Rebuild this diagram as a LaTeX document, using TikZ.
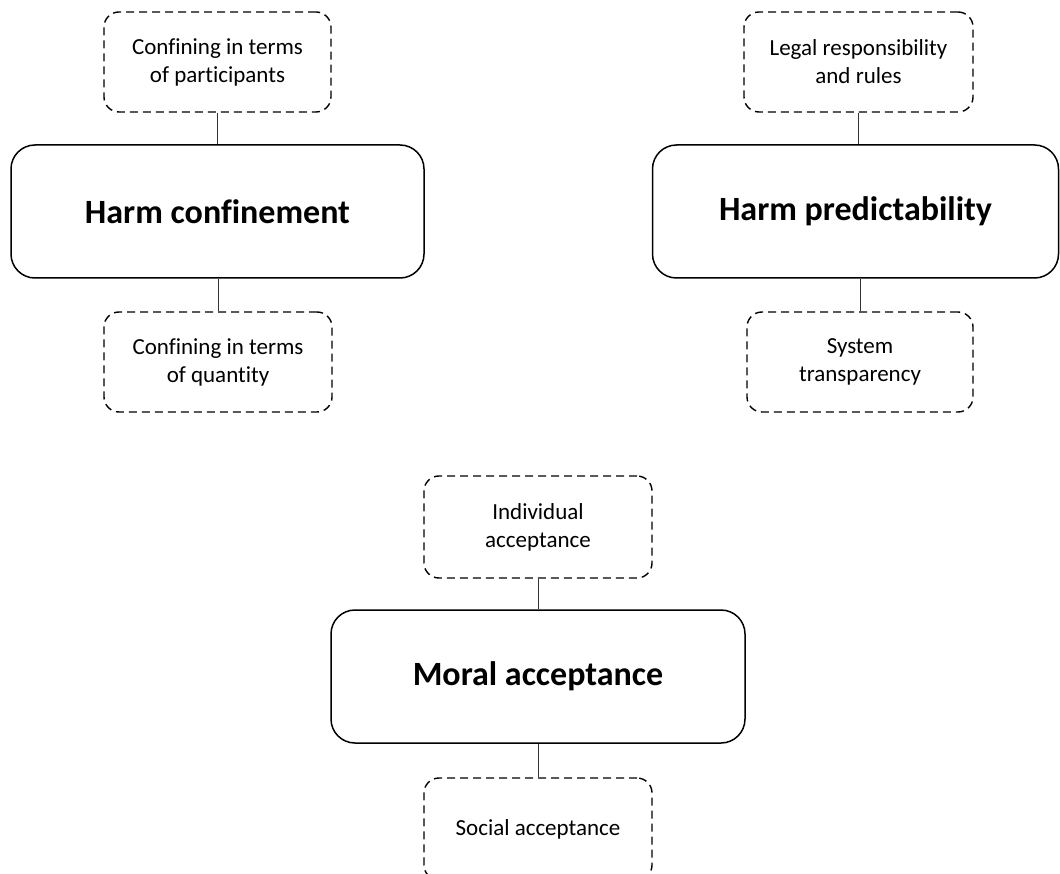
\documentclass[tikz,border=0pt]{standalone}
\usepackage{fontspec}
\setmainfont[Ligatures={NoCommon}]{Carlito}
\begin{document}
\begin{tikzpicture}[x=1pt,y=-1pt,
  subbox/.style={draw=black, line width=1.4pt, dash pattern=on 8pt off 5pt, rounded corners=15pt, align=center, font=\fontsize{23}{28}\selectfont, inner sep=0pt},
  mainbox/.style={draw=black, line width=1.5pt, rounded corners=24pt, align=center, font=\fontsize{34}{40}\selectfont\bfseries, inner sep=0pt},
  link/.style={draw=black!80, line width=1pt}]
\clip (0,0) rectangle (1060,874);
\fill[white] (0,0) rectangle (1060,874);
% group 1
\node[subbox, minimum width=227pt, minimum height=100pt] (t1) at (217.5,62) {Confining in terms\\of participants};
\node[mainbox, minimum width=413pt, minimum height=133pt] (m1) at (217.5,211.5) {Harm confinement};
\node[subbox, minimum width=228pt, minimum height=100pt] (b1) at (218,362) {Confining in terms\\of quantity};
% group 2
\node[subbox, minimum width=229pt, minimum height=100pt] (t2) at (858.5,62) {Legal responsibility\\and rules};
\node[mainbox, minimum width=406pt, minimum height=133pt] (m2) at (855.5,211.5) {Harm predictability};
\node[subbox, minimum width=226pt, minimum height=100pt] (b2) at (860,362) {System\\transparency};
% group 3
\node[subbox, minimum width=228pt, minimum height=102pt] (t3) at (538,527) {Individual\\acceptance};
\node[mainbox, minimum width=414pt, minimum height=133pt] (m3) at (538,676.5) {Moral acceptance};
\node[subbox, minimum width=228pt, minimum height=102pt] (b3) at (538,829) {Social acceptance};
% connectors
\draw[link] (t1.south) -- (t1.south |- m1.north);
\draw[link] (b1.north) -- (b1.north |- m1.south);
\draw[link] (t2.south) -- (t2.south |- m2.north);
\draw[link] (b2.north) -- (b2.north |- m2.south);
\draw[link] (t3.south) -- (t3.south |- m3.north);
\draw[link] (b3.north) -- (b3.north |- m3.south);
\end{tikzpicture}
\end{document}
